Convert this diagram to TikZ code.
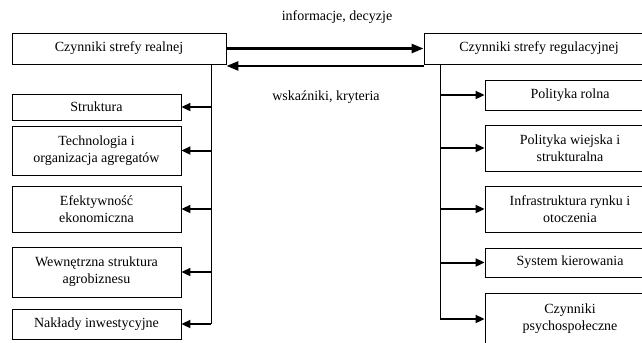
\documentclass[tikz,border=0pt]{standalone}
\usepackage{fontspec}
\setmainfont{Liberation Serif}
\usetikzlibrary{
	arrows.meta,									% arrow tips
	positioning,									% relative placement
}
\tikzset{
	box/.style={draw, line width=0.9bp, align=center, inner sep=1bp,
		font=\fontsize{14bp}{17bp}\selectfont},
	lbox/.style={box, minimum width=169bp},
	rbox/.style={box, minimum width=170bp},
	lbl/.style={font=\fontsize{14bp}{17bp}\selectfont, inner sep=1bp},
	trunk/.style={line width=1bp},
	arr/.style={line width=2bp, -{Triangle[length=9bp,width=8bp]}},
	bigarr/.style={line width=2.5bp, -{Triangle[length=12bp,width=9bp]}},
}
\begin{document}
	\begin{tikzpicture}[x=1bp, y=-1bp]
		\useasboundingbox (0,0) rectangle (642,342);
		\clip (0,0) rectangle (642,342);
		% top boxes
		\node[box, minimum width=214bp, minimum height=31bp] (realna) at (119,48.5) {Czynniki strefy realnej};
		\node[box, minimum width=230bp, minimum height=31bp] (regul) at (539,48.5) {Czynniki strefy regulacyjnej};
		\node[lbl] (info) at (337,17) {informacje, decyzje};
		\node[lbl] (wsk) at (326,97) {wskaźniki, kryteria};
		\draw[bigarr] (realna.east) -- (regul.west);
		\draw[bigarr] ([yshift=-1.5bp]regul.south west) -- ([yshift=-1.5bp]realna.south east);
		% left column
		\node[lbox, minimum height=26bp] (struktura) at (96.5,107) {Struktura};
		\node[lbox, minimum height=49bp] (techn) at (96.5,150.5) {Technologia i\\organizacja agregatów};
		\node[lbox, minimum height=46bp] (efekt) at (96.5,209) {Efektywność\\ekonomiczna};
		\node[lbox, minimum height=50bp] (wewn) at (96.5,272) {Wewnętrzna struktura\\agrobiznesu};
		\node[lbox, minimum height=30bp] (naklady) at (96.5,324) {Nakłady inwestycyjne};
		% right column
		\node[rbox, minimum height=30bp] (rolna) at (570,95) {Polityka rolna};
		\node[rbox, minimum height=46bp] (wiejska) at (570,148) {Polityka wiejska i\\strukturalna};
		\node[rbox, minimum height=46bp] (infra) at (570,209) {Infrastruktura rynku i\\otoczenia};
		\node[rbox, minimum height=29bp] (kier) at (570,262.5) {System kierowania};
		\node[rbox, minimum height=52bp] (psycho) at (570,319) {Czynniki\\psychospołeczne};
		% trunks
		\coordinate (trunkL) at (211,64);
		\coordinate (trunkR) at (440,64);
		\draw[trunk] (trunkL) -- (trunkL |- naklady.east);
		\draw[trunk] (trunkR) -- (trunkR |- psycho.west);
		\foreach \n in {struktura,techn,efekt,wewn,naklady}
			\draw[arr] (trunkL |- \n.east) -- (\n.east);
		\foreach \n in {rolna,wiejska,infra,kier,psycho}
			\draw[arr] (trunkR |- \n.west) -- (\n.west);
	\end{tikzpicture}
\end{document}
